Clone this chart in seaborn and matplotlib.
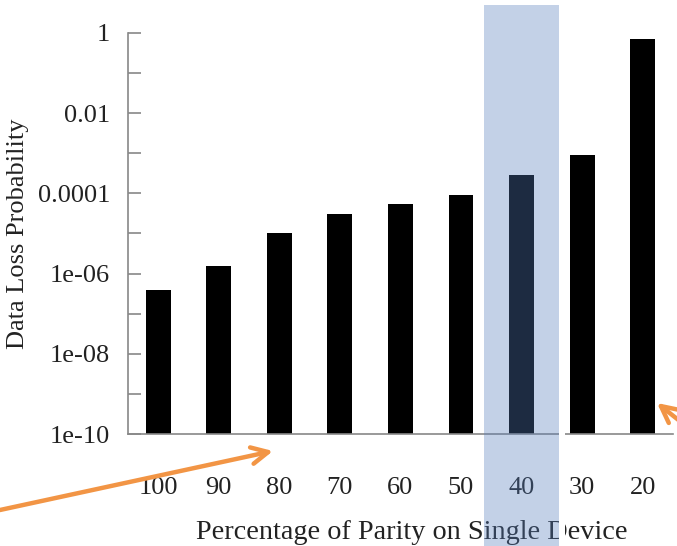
import matplotlib
matplotlib.use("Agg")
import matplotlib.pyplot as plt
import matplotlib.transforms as mtransforms
from matplotlib.patches import Rectangle
import seaborn as sns
import pandas as pd

# --- chart data ---
parity_pct = ["100", "90", "80", "70", "60", "50", "40", "30", "20"]
loss_prob = [4e-7, 1.5e-6, 1e-5, 3e-5, 5.4e-5, 9e-5, 2.8e-4, 9e-4, 0.7]
highlight = "40"

ytick_vals = [1, 1e-2, 1e-4, 1e-6, 1e-8, 1e-10]
ytick_labels = ["1", "0.01", "0.0001", "1e-06", "1e-08", "1e-10"]
yminor_vals = [1e-1, 1e-3, 1e-5, 1e-7, 1e-9]

df = pd.DataFrame({"pct": parity_pct, "prob": loss_prob})

sns.set_style("white")
plt.rcParams["font.family"] = ["Liberation Serif", "DejaVu Serif"]

fig = plt.figure(figsize=(6.77, 5.46), dpi=100)
ax = fig.add_axes([0.189, 0.205, 0.805, 0.735])
ax.set_yscale("log")

sns.barplot(data=df, x="pct", y="prob", order=parity_pct, color="black",
            width=0.41, saturation=1, edgecolor="none", ax=ax)

ax.set_ylim(1e-10, 1)
ax.set_xlim(-0.5, len(parity_pct) - 0.5)
ax.set_yticks(ytick_vals, ytick_labels)
ax.set_yticks(yminor_vals, minor=True)
ax.yaxis.set_minor_formatter(plt.NullFormatter())

ax.tick_params(axis="y", which="both", direction="in", length=9, width=1.2,
               color="#888888", labelsize=19, pad=13, labelcolor="#222222", left=True)
ax.tick_params(axis="x", length=0, labelsize=19, pad=31, labelcolor="#222222")

for side in ["top", "right"]:
    ax.spines[side].set_visible(False)
for side in ["left", "bottom"]:
    ax.spines[side].set_color("#888888")
    ax.spines[side].set_linewidth(1.2)

ax.set_xlabel("Percentage of Parity on Single Device", fontsize=20.3, color="#222222", labelpad=15)
ax.xaxis.label.set_x(0.521)
ax.set_ylabel("Data Loss Probability", fontsize=19, color="#222222", labelpad=6)

# highlight band over the "40" column (x in data units, y in figure units)
hi = parity_pct.index(highlight)
blend = mtransforms.blended_transform_factory(ax.transData, fig.transFigure)
fig.add_artist(Rectangle((hi - 0.617, 0), 1.234, 0.991, transform=blend,
                         facecolor="#557dbc", alpha=0.35, edgecolor="none", zorder=5))
fig.add_artist(Rectangle((hi + 0.617, 0), 0.1, 0.991, transform=blend,
                         facecolor="white", edgecolor="none", zorder=5))

# orange call-out arrows
arrow = dict(arrowstyle="->", color="#f29545", lw=3.2, mutation_scale=30,
             shrinkA=0, shrinkB=0)
ax.annotate("", xy=(273 / 677, 1 - 451 / 546), xytext=(0, 1 - 510 / 546),
            xycoords="figure fraction", textcoords="figure fraction",
            arrowprops=arrow, annotation_clip=False, zorder=6)
ax.annotate("", xy=(657 / 677, 1 - 403 / 546), xytext=(705 / 677, 1 - 441 / 546),
            xycoords="figure fraction", textcoords="figure fraction",
            arrowprops=arrow, annotation_clip=False, zorder=6)

fig.savefig("out.png", dpi=100)
